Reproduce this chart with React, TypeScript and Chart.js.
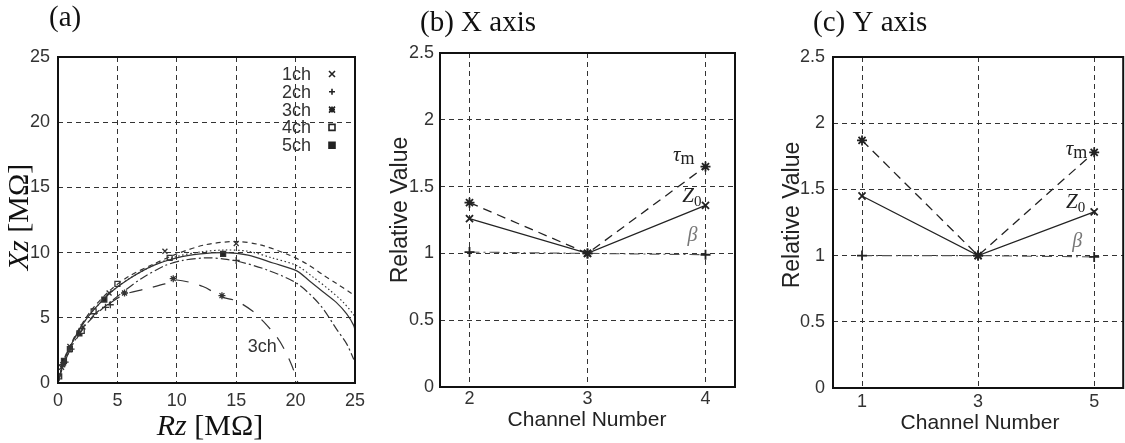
import React, { useEffect, useRef } from "react";
import { Chart, registerables } from "chart.js";
Chart.register(...registerables);

// ---------- Panel (a): impedance loci, Rz vs Xz [MΩ] ----------
const ch1R = [0, 0.5, 1.2, 2, 3, 4.5, 6, 8, 10, 12.4, 15, 17, 19.5, 21, 22.3, 23.5, 24.5, 25];
const ch1X = [0, 1.8, 3.2, 4.5, 5.8, 7.2, 8.2, 9.1, 9.9, 10.6, 10.85, 10.6, 9.8, 9.1, 8.3, 7.6, 7.0, 6.7];
const ch2R = [0, 0.5, 1.2, 2, 3, 4, 5.5, 7, 9, 10.5, 12.5, 14, 15.3, 17.6, 20.1, 22.05, 23.5, 24.3, 24.9];
const ch2X = [0, 1.5, 2.9, 4.1, 5.1, 5.9, 7.0, 8.0, 9.0, 9.4, 9.6, 9.5, 9.3, 8.67, 7.64, 6.0, 4.06, 3.0, 1.8];
const ch3R = [0, 0.5, 1.5, 3, 4.5, 5.6, 7.3, 9, 10, 12.2, 13.8, 15, 16.4, 17.3, 18.4, 19.1, 19.7, 20.2];
const ch3X = [0, 1.5, 3.3, 5.2, 6.2, 6.8, 7.2, 7.6, 7.9, 7.4, 6.6, 6.3, 5.5, 4.7, 3.55, 2.5, 1.3, 0];
const ch4R = [0, 0.5, 1.2, 2, 3, 4.5, 6, 8, 10, 12, 14, 16, 18, 20.1, 21.5, 22.9, 24, 24.9, 25];
const ch4X = [0, 1.7, 3.1, 4.4, 5.6, 7.0, 8.0, 9.0, 9.7, 10.05, 10.2, 10.1, 9.6, 9.0, 8.1, 7.1, 6.2, 5.2, 4.8];
const ch5R = [0, 0.5, 1.2, 2, 3, 4.5, 6, 8, 10, 12, 14, 16, 18.1, 20.1, 21.2, 22.3, 23.4, 24.3, 24.9, 25];
const ch5X = [0, 1.7, 3.1, 4.4, 5.6, 7.0, 8.0, 9.0, 9.6, 9.9, 10.0, 9.8, 9.2, 8.6, 7.8, 7.0, 6.2, 5.3, 4.4, 4.0];

// marker samples on each locus
const m1R = [0.3, 1.0, 2.1, 4.3, 9.0, 15.0];
const m1X = [1.2, 2.8, 4.3, 6.9, 10.1, 10.7];
const m2R = [0.6, 1.1, 4.0, 4.4, 15.0];
const m2X = [1.6, 2.6, 5.8, 6.0, 9.4];
const m3R = [0.4, 5.6, 9.7, 13.8];
const m3X = [1.4, 6.9, 8.0, 6.7];
const m4R = [0.1, 1.0, 2.0, 3.0, 5.0, 9.4];
const m4X = [0.5, 2.6, 4.0, 5.5, 7.6, 9.6];
const m5R = [0.5, 1.8, 3.9, 13.9];
const m5X = [1.7, 3.8, 6.4, 9.9];

const channelNames = ["1ch", "2ch", "3ch", "4ch", "5ch"];

// ---------- Panel (b): X axis ----------
const chB = [2, 3, 4];
const tauB = [1.38, 1.0, 1.65];
const z0B = [1.26, 1.0, 1.36];
const betaB = [1.01, 1.0, 0.99];

// ---------- Panel (c): Y axis ----------
const chC = [1, 3, 5];
const tauC = [1.87, 1.0, 1.78];
const z0C = [1.45, 1.0, 1.33];
const betaC = [1.0, 1.0, 0.99];

const SANS = "'Liberation Sans', Arial, sans-serif";
const SERIF = "'Liberation Serif', 'Times New Roman', serif";
Chart.defaults.font.family = SANS;

const xy = (xs: number[], ys: number[]) => xs.map((x, i) => ({ x, y: ys[i] }));

function drawMixed(ctx: CanvasRenderingContext2D, parts: [string, string][], cx: number, y: number) {
  let w = 0;
  parts.forEach(([t, f]) => { ctx.font = f; w += ctx.measureText(t).width; });
  let x = cx - w / 2;
  ctx.textAlign = "left";
  parts.forEach(([t, f]) => { ctx.font = f; ctx.fillText(t, x, y); x += ctx.measureText(t).width; });
}

function drawMarker(ctx: CanvasRenderingContext2D, style: string, x: number, y: number, r: number, fill: string) {
  ctx.beginPath();
  if (style === "crossRot" || style === "star") {
    ctx.moveTo(x - r, y - r); ctx.lineTo(x + r, y + r);
    ctx.moveTo(x - r, y + r); ctx.lineTo(x + r, y - r);
  }
  if (style === "cross" || style === "star") {
    ctx.moveTo(x - r, y); ctx.lineTo(x + r, y);
    ctx.moveTo(x, y - r); ctx.lineTo(x, y + r);
  }
  if (style === "rect") {
    ctx.rect(x - r, y - r, 2 * r, 2 * r);
    ctx.fillStyle = fill; ctx.fill();
  }
  ctx.stroke();
}

const framePlugin = {
  id: "frame",
  afterDraw(chart: any) {
    const { ctx, chartArea: a } = chart;
    ctx.save();
    ctx.strokeStyle = "#111";
    ctx.lineWidth = 2;
    ctx.strokeRect(a.left, a.top, a.right - a.left, a.bottom - a.top);
    ctx.restore();
  },
};

const gridOpts = { color: "#333", lineWidth: 1, drawTicks: false };
const borderOpts = { display: false, dash: [5, 4] };
const tickFont = { family: SANS, size: 18 };
const plainNum = (v: any) => `${+v}`;

const styles = ["crossRot", "cross", "star", "rect", "rect"];
const fills = ["#333", "#333", "#333", "#fff", "#222"];

function makeA(): any {
  const curves = [
    { r: ch1R, x: ch1X, dash: [5, 4] },
    { r: ch2R, x: ch2X, dash: [9, 3, 2, 3] },
    { r: ch3R, x: ch3X, dash: [13, 11] },
    { r: ch4R, x: ch4X, dash: [1.5, 2.5] },
    { r: ch5R, x: ch5X, dash: [] },
  ];
  const marks = [[m1R, m1X], [m2R, m2X], [m3R, m3X], [m4R, m4X], [m5R, m5X]];
  const datasets: any[] = curves.map((c, i) => ({
    label: channelNames[i],
    data: xy(c.r, c.x),
    showLine: true,
    borderColor: "#333",
    borderWidth: 1.2,
    borderDash: c.dash,
    tension: 0.3,
    pointRadius: 0,
  }));
  marks.forEach(([r, x], i) => {
    datasets.push({
      label: channelNames[i] + " markers",
      data: xy(r as number[], x as number[]),
      showLine: false,
      pointStyle: styles[i],
      pointRadius: 3.5,
      pointBorderWidth: 1.3,
      pointBorderColor: "#333",
      pointBackgroundColor: fills[i],
    });
  });
  const textPlugin = {
    id: "textA",
    afterDraw(chart: any) {
      const ctx = chart.ctx as CanvasRenderingContext2D;
      const xs = chart.scales.x, ys = chart.scales.y;
      ctx.save();
      ctx.fillStyle = "#111";
      ctx.textBaseline = "alphabetic";
      ctx.font = `29px ${SERIF}`;
      ctx.textAlign = "left";
      ctx.fillText("(a)", 49, 26);
      drawMixed(ctx, [["Rz", `italic 30px ${SERIF}`], [" [MΩ]", `30px ${SERIF}`]], 210, 435);
      ctx.save();
      ctx.translate(28, 217);
      ctx.rotate(-Math.PI / 2);
      drawMixed(ctx, [["Xz", `italic 30px ${SERIF}`], [" [MΩ]", `30px ${SERIF}`]], 0, 0);
      ctx.restore();
      // legend
      ctx.font = `18px ${SANS}`;
      ctx.strokeStyle = "#222";
      ctx.lineWidth = 1.6;
      channelNames.forEach((n, i) => {
        const by = 80 + i * 17.8;
        ctx.fillStyle = "#333";
        ctx.textAlign = "right";
        ctx.fillText(n, 311, by);
        drawMarker(ctx, styles[i], 332, by - 6, 3, fills[i]);
      });
      // 3ch label
      ctx.fillStyle = "#333";
      ctx.font = `18px ${SANS}`;
      ctx.textAlign = "center";
      ctx.fillText("3ch", xs.getPixelForValue(17.2), ys.getPixelForValue(2.4));
      ctx.restore();
    },
  };
  return {
    type: "scatter",
    data: { datasets },
    options: {
      responsive: false,
      animation: false,
      events: [],
      layout: { padding: { top: 57, right: 20, left: 0, bottom: 0 } },
      plugins: { legend: { display: false }, tooltip: { enabled: false } },
      scales: {
        x: {
          type: "linear", min: 0, max: 25,
          ticks: { stepSize: 5, font: tickFont, color: "#333", padding: 7, maxRotation: 0, callback: plainNum },
          grid: gridOpts, border: borderOpts,
          afterFit: (s: any) => { s.height = 60; },
        },
        y: {
          type: "linear", min: 0, max: 25,
          ticks: { stepSize: 5, font: tickFont, color: "#333", padding: 8, callback: plainNum },
          grid: gridOpts, border: borderOpts,
          afterFit: (s: any) => { s.width = 58; },
        },
      },
    },
    plugins: [framePlugin, textPlugin],
  };
}

function makeRel(opts: {
  ch: number[]; tau: number[]; z0: number[]; beta: number[];
  xmin: number; xmax: number; title: string; titleX: number;
  yWidth: number; xHeight: number; padTop: number; padRight: number;
  yPad: number; xPad: number;
  relX: number; relY: number; chanX: number; chanY: number;
  tauOff: [number, number]; zOff: [number, number]; betaOff: [number, number];
}): any {
  const o = opts;
  const datasets = [
    {
      label: "tau_m", data: xy(o.ch, o.tau), showLine: true,
      borderColor: "#222", borderWidth: 1.3, borderDash: [9, 6],
      pointStyle: "star", pointRadius: 5, pointBorderWidth: 1.8, pointBorderColor: "#222",
    },
    {
      label: "Z0", data: xy(o.ch, o.z0), showLine: true,
      borderColor: "#222", borderWidth: 1.3, borderDash: [],
      pointStyle: "crossRot", pointRadius: 5, pointBorderWidth: 1.8, pointBorderColor: "#222",
    },
    {
      label: "beta", data: xy(o.ch, o.beta), showLine: true,
      borderColor: "#555", borderWidth: 1.1, borderDash: [10, 4, 2, 4],
      pointStyle: "cross", pointRadius: 5, pointBorderWidth: 1.8, pointBorderColor: "#222",
    },
  ];
  const textPlugin = {
    id: "textRel",
    afterDraw(chart: any) {
      const ctx = chart.ctx as CanvasRenderingContext2D;
      const xs = chart.scales.x, ys = chart.scales.y;
      const last = o.ch.length - 1;
      const px = xs.getPixelForValue(o.ch[last]);
      ctx.save();
      ctx.fillStyle = "#111";
      ctx.textBaseline = "alphabetic";
      ctx.textAlign = "left";
      ctx.font = `29px ${SERIF}`;
      ctx.fillText(o.title, o.titleX, 31);
      ctx.fillStyle = "#222";
      ctx.textAlign = "center";
      ctx.textBaseline = "middle";
      ctx.font = `21px ${SANS}`;
      ctx.fillText("Channel Number", o.chanX, o.chanY);
      ctx.save();
      ctx.translate(o.relX, o.relY);
      ctx.rotate(-Math.PI / 2);
      ctx.font = `23px ${SANS}`;
      ctx.fillText("Relative Value", 0, 0);
      ctx.restore();
      ctx.textBaseline = "alphabetic";
      // tau_m
      let y = ys.getPixelForValue(o.tau[last]) + o.tauOff[1];
      let x = px + o.tauOff[0];
      ctx.font = `18px ${SERIF}`;
      const mW = ctx.measureText("m").width;
      ctx.font = `italic 21px ${SERIF}`;
      const tW = ctx.measureText("τ").width;
      ctx.textAlign = "left";
      ctx.fillStyle = "#222";
      ctx.fillText("τ", x - mW - tW, y - 3);
      ctx.font = `18px ${SERIF}`;
      ctx.fillText("m", x - mW, y);
      // Z0
      y = ys.getPixelForValue(o.z0[last]) + o.zOff[1];
      x = px + o.zOff[0];
      ctx.font = `15px ${SERIF}`;
      const zW0 = ctx.measureText("0").width;
      ctx.font = `italic 21px ${SERIF}`;
      const zW = ctx.measureText("Z").width;
      ctx.fillText("Z", x - zW0 - zW, y);
      ctx.font = `15px ${SERIF}`;
      ctx.fillText("0", x - zW0, y + 4);
      // beta
      y = ys.getPixelForValue(o.beta[last]) + o.betaOff[1];
      x = px + o.betaOff[0];
      ctx.font = `italic 20px ${SERIF}`;
      ctx.fillStyle = "#777";
      ctx.textAlign = "right";
      ctx.fillText("β", x, y);
      ctx.restore();
    },
  };
  return {
    type: "scatter",
    data: { datasets },
    options: {
      responsive: false,
      animation: false,
      events: [],
      layout: { padding: { top: o.padTop, right: o.padRight, left: 0, bottom: 0 } },
      plugins: { legend: { display: false }, tooltip: { enabled: false } },
      scales: {
        x: {
          type: "linear", min: o.xmin, max: o.xmax,
          afterBuildTicks: (s: any) => { s.ticks = o.ch.map((v) => ({ value: v })); },
          ticks: { font: tickFont, color: "#333", padding: o.xPad, maxRotation: 0, callback: plainNum },
          grid: gridOpts, border: borderOpts,
          afterFit: (s: any) => { s.height = o.xHeight; },
        },
        y: {
          type: "linear", min: 0, max: 2.5,
          ticks: { stepSize: 0.5, font: tickFont, color: "#333", padding: o.yPad, callback: plainNum },
          grid: gridOpts, border: borderOpts,
          afterFit: (s: any) => { s.width = o.yWidth; },
        },
      },
    },
    plugins: [framePlugin, textPlugin],
  };
}

function ChartCanvas({ left, width, make }: { left: number; width: number; make: () => any }) {
  const ref = useRef<HTMLCanvasElement>(null);
  useEffect(() => {
    const chart = new Chart(ref.current as HTMLCanvasElement, make());
    return () => chart.destroy();
  }, []);
  return (
    <canvas
      ref={ref}
      width={width}
      height={443}
      style={{ position: "absolute", left, top: 0, width, height: 443 }}
    />
  );
}

export default function App() {
  return (
    <div
      style={{
        position: "absolute", left: 0, top: 0, width: 1125, height: 443,
        overflow: "hidden", background: "#fff",
      }}
    >
      <ChartCanvas left={0} width={375} make={makeA} />
      <ChartCanvas
        left={375}
        width={375}
        make={() =>
          makeRel({
            ch: chB, tau: tauB, z0: z0B, beta: betaB, xmin: 1.75, xmax: 4.25,
            title: "(b) X axis", titleX: 45, yWidth: 65, xHeight: 56, padTop: 53, padRight: 15,
            yPad: 6, xPad: 1, relX: 26, relY: 210, chanX: 212, chanY: 420,
            tauOff: [-11, -3], zOff: [-4, -3], betaOff: [-8, -14],
          })
        }
      />
      <ChartCanvas
        left={750}
        width={380}
        make={() =>
          makeRel({
            ch: chC, tau: tauC, z0: z0C, beta: betaC, xmin: 0.5, xmax: 5.5,
            title: "(c) Y axis", titleX: 63, yWidth: 83, xHeight: 55, padTop: 57, padRight: 4,
            yPad: 8, xPad: 3, relX: 43, relY: 215, chanX: 230, chanY: 423,
            tauOff: [-7, 6], zOff: [-9, -4], betaOff: [-12, -10],
          })
        }
      />
    </div>
  );
}
